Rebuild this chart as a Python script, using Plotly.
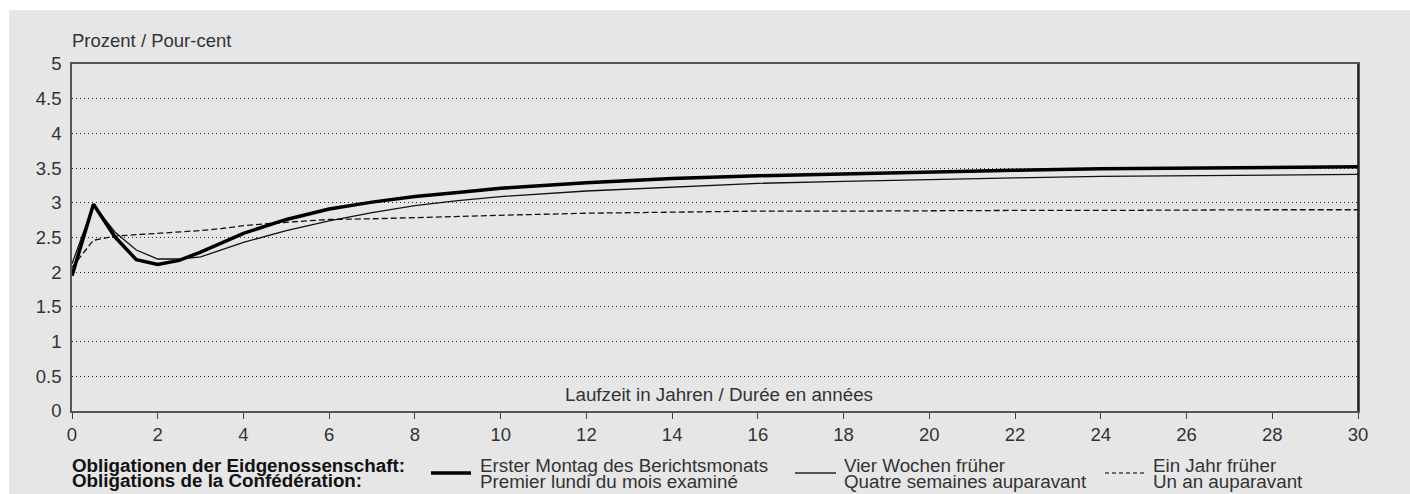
import plotly.graph_objects as go

# Data
laufzeit = [0, 0.5, 1, 1.5, 2, 2.5, 3, 3.5, 4, 5, 6, 7, 8, 9, 10, 12, 14, 16, 18, 20, 22, 24, 26, 28, 30]
erster_montag = [1.95, 2.98, 2.51, 2.18, 2.11, 2.17, 2.29, 2.43, 2.56, 2.76, 2.91, 3.01, 3.09, 3.15, 3.21,
                 3.29, 3.35, 3.39, 3.42, 3.45, 3.47, 3.49, 3.50, 3.51, 3.52]
vier_wochen = [2.12, 2.97, 2.58, 2.32, 2.19, 2.19, 2.22, 2.32, 2.43, 2.60, 2.74, 2.86, 2.96, 3.03, 3.09,
               3.17, 3.23, 3.28, 3.31, 3.34, 3.36, 3.38, 3.39, 3.40, 3.41]
ein_jahr = [2.07, 2.46, 2.52, 2.54, 2.55, 2.57, 2.60, 2.63, 2.67, 2.72, 2.76, 2.77, 2.79, 2.81, 2.82,
            2.85, 2.87, 2.88, 2.88, 2.89, 2.89, 2.89, 2.90, 2.90, 2.90]

x_ticks = list(range(0, 31, 2))
y_ticks = [0, 0.5, 1, 1.5, 2, 2.5, 3, 3.5, 4, 4.5, 5]
y_ticklabels = ["0", "0.5", "1", "1.5", "2", "2.5", "3", "3.5", "4", "4.5", "5"]

W, H = 1410, 494
L, R, T, B = 72, 52, 64, 83
PW, PH = W - L - R, H - T - B

def px(x):
    return (x - L) / PW

def py(y):
    return (H - B - y) / PH

BG = "#e6e6e6"
FONT = "Liberation Sans, Arial, Helvetica, sans-serif"

fig = go.Figure()
fig.add_trace(go.Scatter(x=laufzeit, y=ein_jahr, mode="lines",
                         line=dict(color="#111111", width=1.3, dash="6px,3px"), showlegend=False))
fig.add_trace(go.Scatter(x=laufzeit, y=vier_wochen, mode="lines",
                         line=dict(color="#111111", width=1.3), showlegend=False))
fig.add_trace(go.Scatter(x=laufzeit, y=erster_montag, mode="lines",
                         line=dict(color="#000000", width=3.5), showlegend=False))

shapes = [
    dict(type="rect", xref="paper", yref="paper", x0=px(9), x1=px(1412), y0=py(10), y1=py(496),
         fillcolor=BG, line=dict(width=0), layer="below"),
    # legend samples
    dict(type="line", xref="paper", yref="paper", x0=px(431), x1=px(471), y0=py(473), y1=py(473),
         line=dict(color="#000000", width=3.5)),
    dict(type="line", xref="paper", yref="paper", x0=px(795), x1=px(836), y0=py(473), y1=py(473),
         line=dict(color="#555555", width=1.8)),
    dict(type="line", xref="paper", yref="paper", x0=px(1105), x1=px(1144), y0=py(473), y1=py(473),
         line=dict(color="#444444", width=1.5, dash="4px,3px")),
    # right border black
    dict(type="line", xref="paper", yref="paper", x0=1, x1=1, y0=0, y1=1,
         line=dict(color="#111111", width=1.5)),
]

ann = []
def text(x, y, s, size=16, bold=False, xanchor="left", color="#222222"):
    ann.append(dict(xref="paper", yref="paper", x=px(x), y=py(y), text=("<b>%s</b>" % s) if bold else s,
                    showarrow=False, xanchor=xanchor, yanchor="middle",
                    font=dict(family=FONT, size=size, color=color)))

text(70, 41, "Prozent / Pour-cent", size=18.5, color="#333333")
text(719, 394, "Laufzeit in Jahren / Durée en années", size=18.8, xanchor="center", color="#333333")
text(70, 465, "Obligationen der Eidgenossenschaft:", size=18.8, bold=True, color="#111111")
text(70, 480, "Obligations de la Confédération:", size=18.8, bold=True, color="#111111")
text(478, 465, "Erster Montag des Berichtsmonats", size=18.8, color="#333333")
text(478, 481, "Premier lundi du mois examiné", size=18.8, color="#333333")
text(842, 465, "Vier Wochen früher", size=18.8, color="#333333")
text(842, 481, "Quatre semaines auparavant", size=18.8, color="#333333")
text(1151, 465, "Ein Jahr früher", size=18.8, color="#333333")
text(1151, 481, "Un an auparavant", size=18.8, color="#333333")

fig.update_layout(
    width=W, height=H,
    margin=dict(l=L, r=R, t=T, b=B, pad=0),
    paper_bgcolor="white", plot_bgcolor=BG,
    shapes=shapes, annotations=ann, showlegend=False,
    xaxis=dict(range=[0, 30], tickvals=x_ticks, ticks="outside", ticklen=6, tickcolor="#444444",
               showline=True, linecolor="#555555", linewidth=1.5, mirror=True,
               showgrid=False, zeroline=False,
               tickfont=dict(family=FONT, size=18.5, color="#333333")),
    yaxis=dict(range=[0, 5], tickvals=y_ticks, ticktext=y_ticklabels, ticks="", ticklabelstandoff=5,
               showline=True, linecolor="#555555", linewidth=1.5, mirror=True,
               showgrid=True, gridcolor="#222222", gridwidth=1, griddash="1px,3px", zeroline=False,
               tickfont=dict(family=FONT, size=18.5, color="#333333")),
)

fig.write_html("out.html", config={"displayModeBar": False},
               post_script="document.body.style.margin='0';document.body.style.overflow='hidden';")
